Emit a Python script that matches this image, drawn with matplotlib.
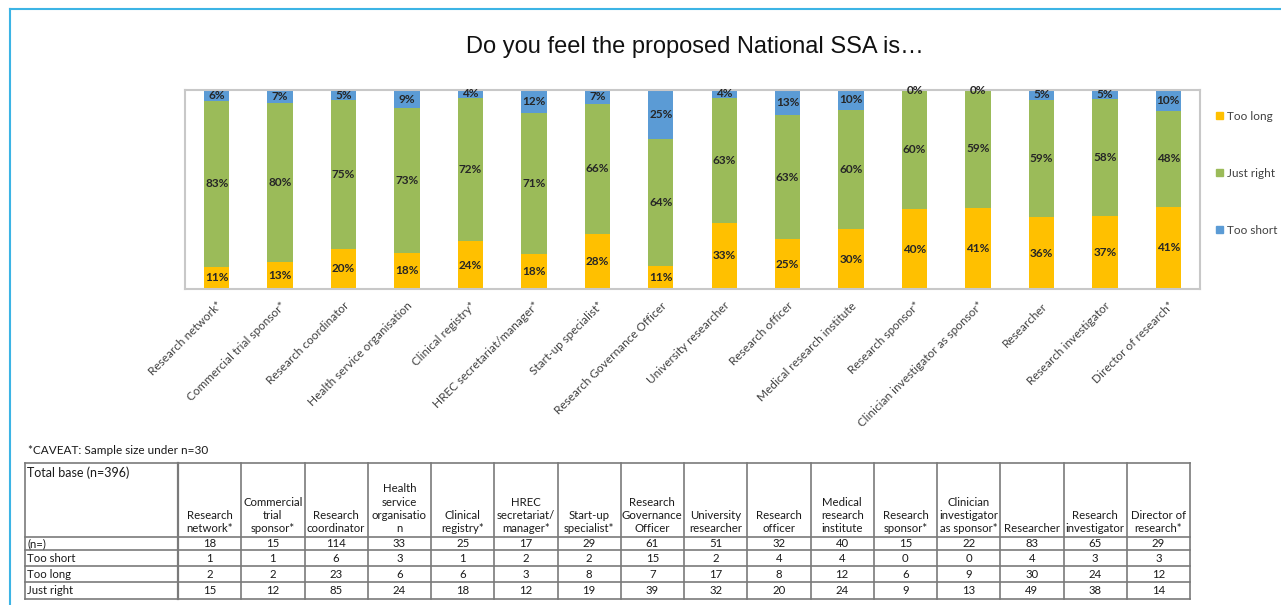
import numpy as np
import matplotlib.pyplot as plt
from matplotlib.patches import Patch

# Respondent groups (chart labels) and table header labels
groups = ['Research network*', 'Commercial trial sponsor*', 'Research coordinator',
          'Health service organisation', 'Clinical registry*', 'HREC secretariat/manager*',
          'Start-up specialist*', 'Research Governance Officer', 'University researcher',
          'Research officer', 'Medical research institute', 'Research sponsor*',
          'Clinician investigator as sponsor*', 'Researcher', 'Research investigator',
          'Director of research*']
headers = ['Research\nnetwork*', 'Commercial\ntrial\nsponsor*', 'Research\ncoordinator',
           'Health\nservice\norganisatio\nn', 'Clinical\nregistry*', 'HREC\nsecretariat/\nmanager*',
           'Start-up\nspecialist*', 'Research\nGovernance\nOfficer', 'University\nresearcher',
           'Research\nofficer', 'Medical\nresearch\ninstitute', 'Research\nsponsor*',
           'Clinician\ninvestigator\nas sponsor*', 'Researcher', 'Research\ninvestigator',
           'Director of\nresearch*']

# Counts per group
n_total = [18, 15, 114, 33, 25, 17, 29, 61, 51, 32, 40, 15, 22, 83, 65, 29]
too_short = [1, 1, 6, 3, 1, 2, 2, 15, 2, 4, 4, 0, 0, 4, 3, 3]
too_long = [2, 2, 23, 6, 6, 3, 8, 7, 17, 8, 12, 6, 9, 30, 24, 12]
just_right = [15, 12, 85, 24, 18, 12, 19, 39, 32, 20, 24, 9, 13, 49, 38, 14]

c_long = '#FFC000'
c_right = '#9BBB59'
c_short = '#5B9BD5'


def pct(v):
    # round half up, like the spreadsheet does
    return f'{int(np.floor(v + 0.5))}%'


W, H = 1281, 605
fig = plt.figure(figsize=(W / 100, H / 100), dpi=100)

# background layer in pixel coordinates: frame, caveat note and table
bg = fig.add_axes([0, 0, 1, 1])
bg.set_xlim(0, W)
bg.set_ylim(H, 0)
bg.axis('off')
bg.plot([10, 10], [9, H], color='#3CB4E5', lw=1.5)
bg.plot([10, W], [9, 9], color='#3CB4E5', lw=1.5)

fig.text(695 / W, 1 - 47 / H, 'Do you feel the proposed National SSA is…',
         ha='center', va='center', fontsize=17, family='Liberation Sans', color='#111111')

# stacked percentage bars
n = np.array(n_total, dtype=float)
p_long = np.array(too_long) / n * 100
p_right = np.array(just_right) / n * 100
p_short = np.array(too_short) / n * 100
x = np.arange(len(groups))

ax = fig.add_axes([185 / W, 1 - 289 / H, (1200 - 185) / W, (289 - 90) / H])
ax.bar(x, p_long, 0.4, color=c_long, label='Too long')
ax.bar(x, p_right, 0.4, bottom=p_long, color=c_right, label='Just right')
ax.bar(x, p_short, 0.4, bottom=p_long + p_right, color=c_short, label='Too short')

lab = dict(ha='center', va='center', fontsize=8.5, fontweight='bold', color='#262626',
           family='Lato', clip_on=False)
for i in range(len(x)):
    ax.text(x[i], p_long[i] / 2, pct(p_long[i]), **lab)
    ax.text(x[i], p_long[i] + p_right[i] / 2, pct(p_right[i]), **lab)
    top = p_long[i] + p_right[i]
    ax.text(x[i], min(top + p_short[i] / 2, 100), pct(p_short[i]), **lab)

ax.set_xlim(-0.5, len(x) - 0.5)
ax.set_ylim(0, 100)
ax.set_yticks([])
ax.set_xticks(x)
ax.set_xticklabels(groups, rotation=45, ha='right', rotation_mode='anchor',
                   fontsize=8.5, family='Lato', color='#404040')
ax.tick_params(axis='x', length=0, pad=8)
for s in ax.spines.values():
    s.set_color('#C8C8C8')
    s.set_linewidth(1.5)

handles = [Patch(color=c_long), Patch(color=c_right), Patch(color=c_short)]
leg = fig.legend(handles, ['Too long', 'Just right', 'Too short'],
                 loc='upper left', bbox_to_anchor=(1205 / W, 1 - 100 / H),
                 frameon=False, handlelength=0.6, handleheight=0.6, handletextpad=0.4,
                 labelspacing=3.9, prop={'family': 'Lato', 'size': 8.5})
for t in leg.get_texts():
    t.set_color('#404040')

# sample size table
bg.text(28, 450, '*CAVEAT: Sample size under n=30', ha='left', va='center',
        fontsize=8.5, family='Lato', color='#1a1a1a')

tx0, tx1, first_w = 25, 1190, 153
col_w = (tx1 - tx0 - first_w) / len(groups)
row_y = [463, 537, 550, 566, 582, 599]
line_c = '#7a7a7a'
for yy in row_y:
    bg.plot([tx0, tx1], [yy, yy], color=line_c, lw=1.2)
bg.plot([tx0, tx0], [row_y[0], row_y[-1]], color=line_c, lw=1.2)
for j in range(len(groups) + 1):
    xx = tx0 + first_w + j * col_w
    bg.plot([xx, xx], [row_y[0], row_y[-1]], color=line_c, lw=1.2 if j else 1.6)

bg.text(tx0 + 2, row_y[0] + 3, 'Total base (n=396)', ha='left', va='top',
        fontsize=9, family='Lato', color='#1a1a1a')
row_names = ['(n=)', 'Too short', 'Too long', 'Just right']
row_vals = [n_total, too_short, too_long, just_right]
for j, h in enumerate(headers):
    cx = tx0 + first_w + (j + 0.5) * col_w
    bg.text(cx, row_y[1] - 3, h, ha='center', va='bottom', fontsize=8.2,
            family='Lato', color='#1a1a1a', linespacing=1.25)
for r, (name, vals) in enumerate(zip(row_names, row_vals)):
    cy = (row_y[r + 1] + row_y[r + 2]) / 2
    bg.text(tx0 + 2, cy, name, ha='left', va='center', fontsize=8.2,
            family='Lato', color='#1a1a1a')
    for j, v in enumerate(vals):
        cx = tx0 + first_w + (j + 0.5) * col_w
        bg.text(cx, cy, str(v), ha='center', va='center', fontsize=8.2,
                family='Lato', color='#1a1a1a')

plt.savefig('out.png', dpi=100)
